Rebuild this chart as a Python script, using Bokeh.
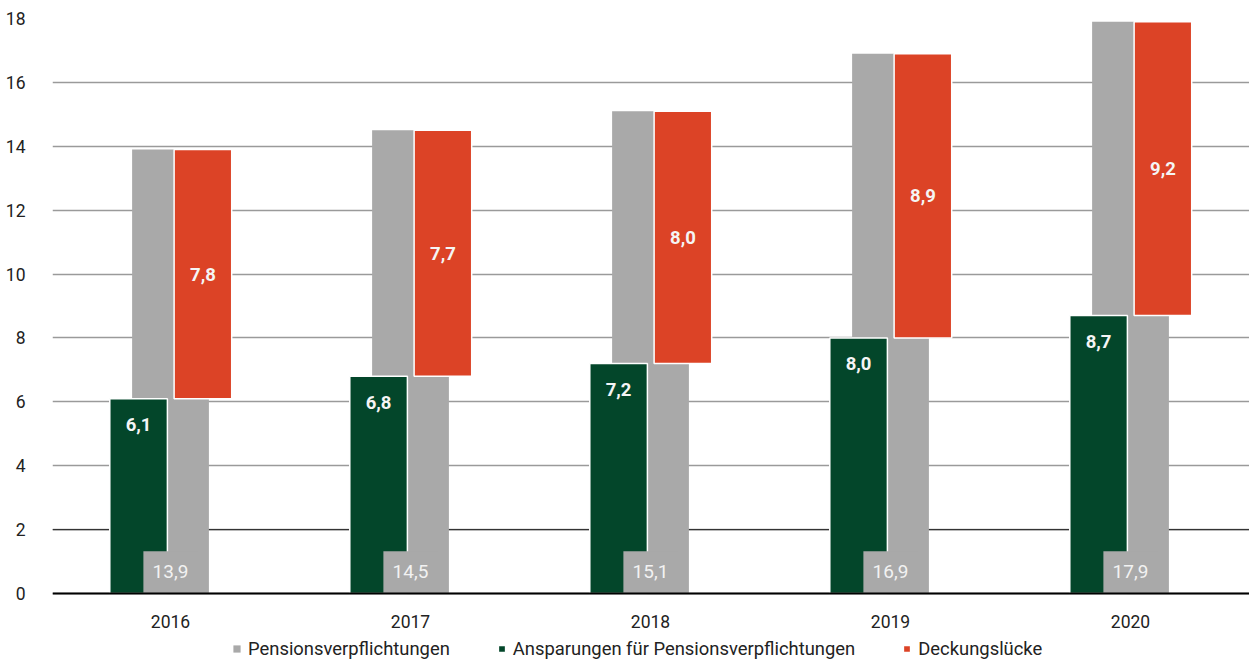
from bokeh.plotting import figure
from bokeh.models import (ColumnDataSource, Range1d, Legend, LegendItem,
                          FixedTicker, Span)
from bokeh.core.properties import value
from bokeh.embed import file_html
from bokeh.resources import INLINE

years = ["2016", "2017", "2018", "2019", "2020"]
obligations = [13.9, 14.5, 15.1, 16.9, 17.9]
savings = [6.1, 6.8, 7.2, 8.0, 8.7]
gap = [7.8, 7.7, 8.0, 8.9, 9.2]
y_ticks = [0, 2, 4, 6, 8, 10, 12, 14, 16, 18]

series_names = ["Pensionsverpflichtungen",
                "Ansparungen für Pensionsverpflichtungen",
                "Deckungslücke"]

GRAY = "#a9a9a9"
GREEN = "#03462a"
RED = "#dc4326"
FONT = "Roboto"

def fmt(v):
    return ("%.1f" % v).replace(".", ",")

xs = list(range(len(years)))
src = ColumnDataSource(dict(
    x=xs,
    xg=[x - 0.133 for x in xs],
    xr=[x + 0.135 for x in xs],
    obl=obligations,
    sav=savings,
    gap_top=obligations,
    redmid=[(s + o) / 2 for s, o in zip(savings, obligations)],
    obl_lbl=[fmt(v) for v in obligations],
    sav_lbl=[fmt(v) for v in savings],
    gap_lbl=[fmt(v) for v in gap],
    year=years,
    zero=[0] * len(xs),
    boxl=[x - 0.113 for x in xs],
    boxr=[x + 0.113 for x in xs],
    boxt=[1.32] * len(xs),
    boxmid=[0.7] * len(xs),
))

# frame reaches the bottom of the page: value 0 sits at 593 px, 18 at 18 px
p = figure(width=1249, height=661, output_backend="svg",
           toolbar_location=None, x_axis_type=None,
           x_range=Range1d(-0.4917, 4.4958), y_range=Range1d(-2.129, 18),
           min_border_left=52, min_border_right=0, min_border_top=18,
           min_border_bottom=0)
p.outline_line_color = None
p.background_fill_color = "white"
p.border_fill_color = "white"

# bars
r_gray = p.vbar(x="x", width=0.32, bottom=0, top="obl", source=src,
                fill_color=GRAY, line_color=None)
r_green = p.vbar(x="xg", width=0.24, bottom=0, top="sav", source=src,
                 fill_color=GREEN, line_color="white", line_width=1.5)
r_red = p.vbar(x="xr", width=0.24, bottom="sav", top="gap_top", source=src,
               fill_color=RED, line_color="white", line_width=1.5)

# gray label boxes
p.quad(left="boxl", right="boxr", bottom="zero", top="boxt", source=src,
       fill_color=GRAY, line_color=None)
p.text(x="x", y="boxmid", text="obl_lbl", source=src, text_align="center",
       text_baseline="middle", text_color="#f2f2f2", text_font_size="19px",
       text_font=value(FONT))
p.text(x="xg", y="sav", text="sav_lbl", source=src, text_align="center",
       text_baseline="middle", y_offset=26, text_color="#f5f5f5",
       text_font_size="18.5px", text_font=value(FONT), text_font_style="bold")
p.text(x="xr", y="redmid", text="gap_lbl", source=src, text_align="center",
       text_baseline="middle", text_color="#f5f5f5", text_font_size="18.5px",
       text_font=value(FONT), text_font_style="bold")

# category labels under the baseline
p.text(x="x", y="zero", text="year", source=src, text_align="center",
       text_baseline="middle", y_offset=28, text_color="#222222",
       text_font_size="17.5px", text_font=value(FONT))

# grid / axes
p.xgrid.visible = False
p.ygrid.ticker = FixedTicker(ticks=y_ticks)
p.ygrid.grid_line_color = "#9a9a9a"
p.ygrid.grid_line_width = 1.3

p.add_layout(Span(location=2, dimension="width", line_color="#333333",
                  line_width=1.2, level="underlay"))
p.add_layout(Span(location=0, dimension="width", line_color="black",
                  line_width=2))

p.yaxis.ticker = FixedTicker(ticks=y_ticks)
p.yaxis.axis_line_color = None
p.yaxis.major_tick_line_color = None
p.yaxis.minor_tick_line_color = None
p.yaxis.major_label_standoff = 21
p.yaxis.major_label_text_font_size = "17.5px"
p.yaxis.major_label_text_font = FONT
p.yaxis.major_label_text_color = "#222222"

legend = Legend(items=[
    LegendItem(label=series_names[0], renderers=[r_gray]),
    LegendItem(label=series_names[1], renderers=[r_green]),
    LegendItem(label=series_names[2], renderers=[r_red]),
], orientation="horizontal", location=(180, 2),
    glyph_width=9, glyph_height=9, label_standoff=7, spacing=47,
    padding=0, margin=0, border_line_color=None,
    label_text_font_size="18.4px", label_text_font=FONT,
    label_text_color="#222222", background_fill_alpha=0)
p.add_layout(legend, "center")

open("out.html", "w").write(file_html(p, INLINE))
